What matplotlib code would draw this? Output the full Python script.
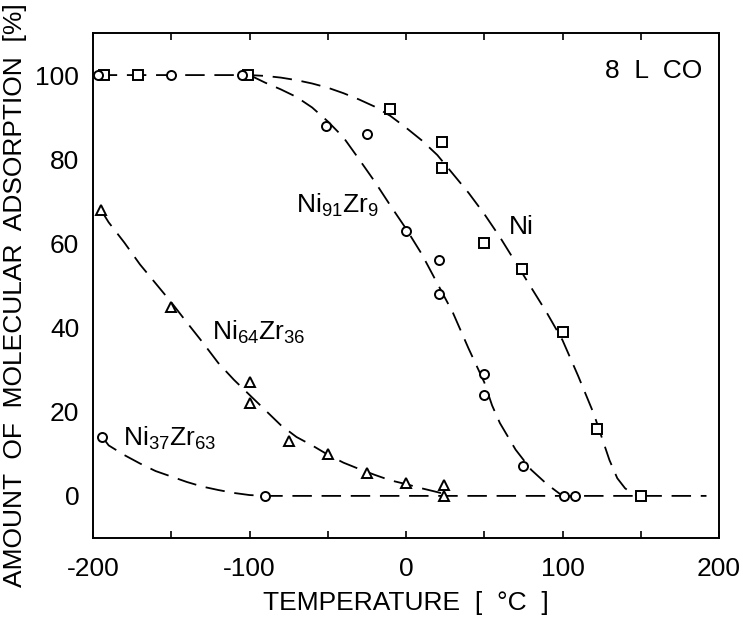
import numpy as np
import matplotlib
matplotlib.use("Agg")
import matplotlib.pyplot as plt

plt.rcParams['font.family'] = ['Liberation Sans', 'DejaVu Sans']
plt.rcParams['mathtext.fontset'] = 'custom'
plt.rcParams['mathtext.rm'] = 'Liberation Sans'
plt.rcParams['lines.scale_dashes'] = False

# measured points (temperature in deg C, molecular adsorption in %)
ni_t = [-193, -171, -101, -10, 23, 23, 50, 74, 100, 122, 150]
ni_a = [100, 100, 100, 92, 84, 78, 60, 54, 39, 16, 0]

ni91_t = [-197, -150, -105, -51, -25, 0, 21, 21, 50, 50, 75, 101, 108]
ni91_a = [100, 100, 100, 88, 86, 63, 56, 48, 29, 24, 7, 0, 0]

ni64_t = [-195, -150, -100, -100, -75, -50, -25, 0, 24, 24]
ni64_a = [68, 45, 27, 22, 13, 10, 5.5, 3, 2.6, 0]

ni37_t = [-194, -90]
ni37_a = [14, 0]

# hand drawn guide curves
ni_fit_t = [-197, -100, -90, -80, -70, -60, -50, -40, -30, -20, -10, 0, 10, 20, 30, 40,
            50, 60, 70, 80, 90, 100, 110, 120, 125, 130, 135, 140, 145, 150]
ni_fit_a = [100, 100, 99.8, 99.4, 98.8, 98, 97, 95.7, 94.2, 92.5, 90.3, 87.5, 84.5, 81,
            76.5, 72, 67, 61.5, 55.5, 49.5, 43.5, 37, 28.5, 19.5, 14, 8.5, 4.2, 1.8, 0.5, 0]

ni91_fit_t = [-100, -90, -80, -70, -60, -50, -40, -30, -20, -10, 0, 10, 20, 30, 40, 50,
              55, 60, 70, 80, 90, 100]
ni91_fit_a = [100, 98.2, 96.6, 94.8, 92.3, 89, 85.2, 80, 74.7, 69, 63.5, 57.5, 50.5, 43.5,
              35, 27, 21.5, 17.3, 11, 6.2, 2.8, 0]

ni64_fit_t = [-195, -190, -180, -170, -160, -150, -140, -130, -120, -110, -100, -90, -80,
              -70, -60, -50, -40, -30, -20, -10, 0, 10, 20, 24]
ni64_fit_a = [68, 65, 60.2, 55, 50.5, 46, 41.2, 36.5, 31.6, 27.6, 24, 20.4, 16.8, 14, 12,
              9.8, 7.9, 6.4, 5, 3.7, 2.8, 1.8, 0.9, 0.5]

ni37_fit_t = [-194, -190, -180, -170, -160, -150, -140, -130, -120, -110, -100, -90, 192]
ni37_fit_a = [14, 12, 9.7, 7.7, 5.9, 4.6, 3.3, 2.2, 1.4, 0.7, 0.2, 0, 0]

xticks = [-200, -150, -100, -50, 0, 50, 100, 150, 200]
xlabels = ['-200', '', '-100', '', '0', '', '100', '', '200']
yticks = [0, 20, 40, 60, 80, 100]

fig = plt.figure(figsize=(7.43, 6.19), dpi=100)
ax = fig.add_axes([0.1252, 0.1309, 0.8425, 0.8158])

dash = dict(color='black', lw=1.3, dashes=(14, 7), zorder=2)
ax.plot(ni_fit_t, ni_fit_a, **dash)
ax.plot(ni91_fit_t, ni91_fit_a, **dash)
ax.plot(ni64_fit_t, ni64_fit_a, **dash)
ax.plot(ni37_fit_t, ni37_fit_a, **dash)

mk = dict(ls='none', mfc='white', mec='black', mew=1.4, ms=6.5, zorder=3)
ax.plot(ni_t, ni_a, marker='s', **mk)
ax.plot(ni91_t, ni91_a, marker='o', **mk)
ax.plot(ni64_t, ni64_a, marker='^', **mk)
ax.plot(ni37_t, ni37_a, marker='o', **mk)

fs = 19
ax.text(66, 64, 'Ni', fontsize=fs, va='center')
ax.text(-70, 69, r'Ni$\mathregular{_{91}}$Zr$\mathregular{_{9}}$', fontsize=fs, va='center')
ax.text(-124, 38.8, r'Ni$\mathregular{_{64}}$Zr$\mathregular{_{36}}$', fontsize=fs, va='center')
ax.text(-181, 13.6, r'Ni$\mathregular{_{37}}$Zr$\mathregular{_{63}}$', fontsize=fs, va='center')
ax.text(127, 101, '8  L  CO', fontsize=fs, va='center')

ax.set_xlim(-200, 199)
ax.set_ylim(-10, 110)
ax.set_xticks(xticks)
ax.set_xticklabels(xlabels)
ax.set_yticks(yticks)
ax.tick_params(axis='x', direction='in', top=True, length=5, width=1.2,
               labelsize=fs, pad=14)
ax.tick_params(axis='y', length=0, labelsize=fs, pad=10)
for s in ax.spines.values():
    s.set_linewidth(1.4)

ax.set_xlabel('TEMPERATURE  [  °C  ]', fontsize=fs)
ax.xaxis.set_label_coords(0.5, -0.105)
ax.set_ylabel('AMOUNT  OF  MOLECULAR  ADSORPTION  [%]', fontsize=fs)
ax.yaxis.set_label_coords(-0.105, 0.48)

fig.savefig('out.png', dpi=100)
